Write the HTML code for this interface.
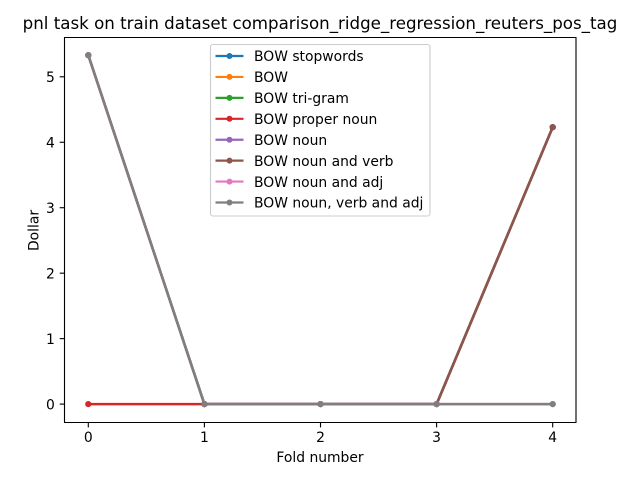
<!DOCTYPE html>
<html lang="en">
<head>
<meta charset="utf-8">
<title>pnl task chart</title>
<style>
html,body{margin:0;padding:0;background:#fff;width:640px;height:480px;overflow:hidden}
svg{display:block}
text{font-family:"DejaVu Sans","Liberation Sans",sans-serif;fill:#000}
</style>
</head>
<body>
<svg id="chart" xmlns="http://www.w3.org/2000/svg" width="640" height="480" viewBox="0 0 640 480">
  <rect x="0" y="0" width="640" height="480" fill="#fff"/>
  <rect x="65" y="37.5" width="511" height="385" fill="#fff"/>
  <g id="marks"></g>
  <g id="xticks"></g>
  <g id="yticks"></g>
  <g stroke="#000" stroke-width="1.11" fill="none">
    <line x1="64.5" y1="37.5" x2="64.5" y2="422.5"/>
    <line x1="576" y1="37.5" x2="576" y2="422.5"/>
    <line x1="64" y1="37.5" x2="576.5" y2="37.5"/>
    <line x1="64" y1="422.5" x2="576.5" y2="422.5"/>
  </g>
  <text x="320" y="29" font-size="16.67" text-anchor="middle">pnl task on train dataset comparison_ridge_regression_reuters_pos_tag</text>
  <text x="320" y="462" font-size="13.89" text-anchor="middle">Fold number</text>
  <text x="0" y="0" font-size="13.89" text-anchor="middle" transform="translate(38.5 230.5) rotate(-90)">Dollar</text>
  <g id="legend">
    <rect x="210.5" y="44.5" width="219.5" height="171.5" rx="2.5" ry="2.5" fill="#fff" fill-opacity="0.8" stroke="#ccc" stroke-width="1.11"/>
  </g>
</svg>
<script>
var folds = [0, 1, 2, 3, 4];
var xTickLabels = ['0', '1', '2', '3', '4'];
var yTickValues = [0, 1, 2, 3, 4, 5];
var seriesNames = ['BOW stopwords', 'BOW', 'BOW tri-gram', 'BOW proper noun', 'BOW noun', 'BOW noun and verb', 'BOW noun and adj', 'BOW noun, verb and adj'];
var seriesColors = ['#1f77b4', '#ff7f0e', '#2ca02c', '#d62728', '#9467bd', '#8c564b', '#e377c2', '#7f7f7f'];
var bowStopwords = [5.33, 0, 0, 0, 4.23];
var bowPlain = [5.33, 0, 0, 0, 4.23];
var bowTrigram = [5.33, 0, 0, 0, 4.23];
var bowProperNoun = [0, 0, 0, 0, 4.23];
var bowNoun = [5.33, 0, 0, 0, 4.23];
var bowNounVerb = [5.33, 0, 0, 0, 4.23];
var bowNounAdj = [5.33, 0, 0, 0, 0];
var bowNounVerbAdj = [5.33, 0, 0, 0, 0];
var seriesValues = [bowStopwords, bowPlain, bowTrigram, bowProperNoun, bowNoun, bowNounVerb, bowNounAdj, bowNounVerbAdj];

var NS = 'http://www.w3.org/2000/svg';
function xScale(v) { return 88.3 + v * 116.1; }
function yScale(v) { return 404.1 - v * 65.46; }
function make(tag, attrs, parent) {
  var el = document.createElementNS(NS, tag);
  for (var k in attrs) { el.setAttribute(k, attrs[k]); }
  parent.appendChild(el);
  return el;
}
var marks = document.getElementById('marks');
var xticks = document.getElementById('xticks');
var yticks = document.getElementById('yticks');
var legend = document.getElementById('legend');

seriesValues.forEach(function (values, s) {
  var g = make('g', {}, marks);
  
  
  var pts = values.map(function (v, i) { return xScale(folds[i]).toFixed(2) + ',' + yScale(v).toFixed(2); }).join(' ');
  var line = make('polyline', { points: pts, fill: 'none', stroke: seriesColors[s], 'stroke-width': 2.5, 'stroke-linejoin': 'round', 'stroke-linecap': 'square' }, g);
  
  
  values.forEach(function (v, i) {
    var dot = make('circle', { cx: xScale(folds[i]), cy: yScale(v), r: 3.1, fill: seriesColors[s] }, g);
    
    
  });
});

folds.forEach(function (f, i) {
  var x = xScale(f);
  var t = make('line', { x1: x, x2: x, y1: 422.5, y2: 427.4, stroke: '#000', 'stroke-width': 1.11 }, xticks);
  
  
  var lab = make('text', { x: x, y: 442, 'font-size': 13.89, 'text-anchor': 'middle' }, xticks);
  
  
  lab.textContent = xTickLabels[i];
});

yTickValues.forEach(function (v) {
  var y = yScale(v);
  var t = make('line', { x1: 59.7, x2: 64.5, y1: y, y2: y, stroke: '#000', 'stroke-width': 1.11 }, yticks);
  
  
  var lab = make('text', { x: 54.8, y: y + 5.2, 'font-size': 13.89, 'text-anchor': 'end' }, yticks);
  
  
  lab.textContent = String(v);
});

seriesNames.forEach(function (name, s) {
  var cy = 56 + s * 20.93;
  var g = make('g', {}, legend);
  
  
  var h = make('line', { x1: 215.5, x2: 243.5, y1: cy, y2: cy, stroke: seriesColors[s], 'stroke-width': 2.2 }, g);
  
  
  var d = make('circle', { cx: 229.5, cy: cy, r: 3, fill: seriesColors[s] }, g);
  
  
  var t = make('text', { x: 254, y: cy + 5.2, 'font-size': 13.89 }, g);
  
  
  t.textContent = name;
});
</script>
</body>
</html>
